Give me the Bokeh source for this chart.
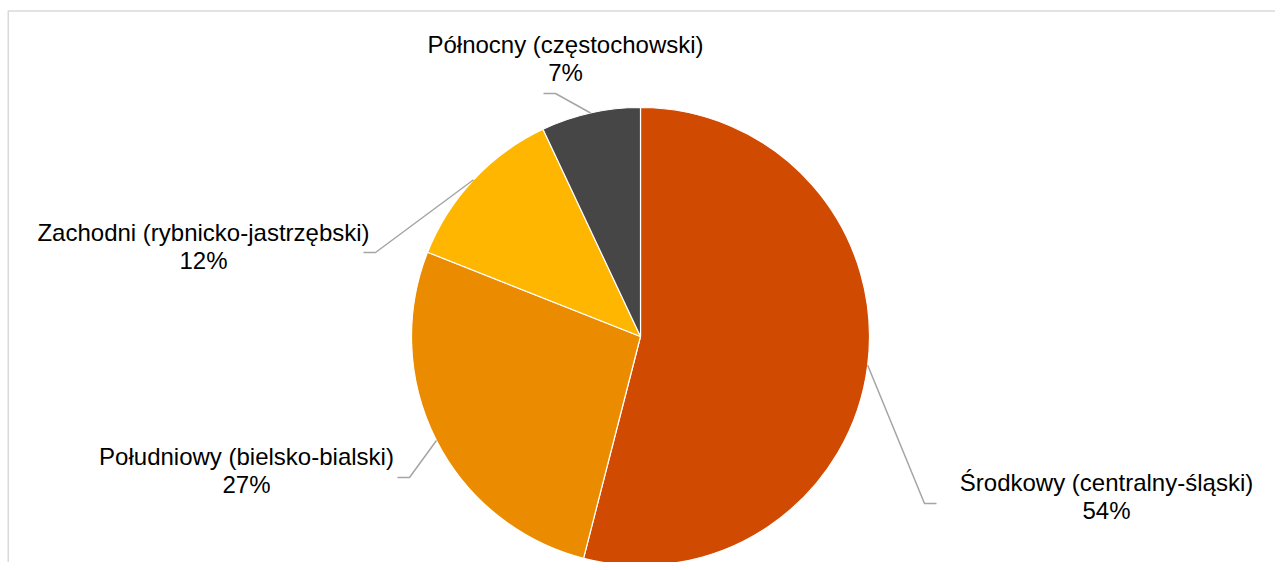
import math
from bokeh.plotting import figure
from bokeh.models import Range1d
from bokeh.core.properties import value
from bokeh.embed import file_html
from bokeh.resources import INLINE

# ---- data ----
names = ["Środkowy (centralny-śląski)", "Południowy (bielsko-bialski)",
         "Zachodni (rybnicko-jastrzębski)", "Północny (częstochowski)"]
shares = [54, 27, 12, 7]
colors = ["#D04A02", "#EB8C00", "#FFB600", "#464646"]

# ---- layout (picture pixels) ----
W, H = 1275, 562
CX, CY, R = 640, 336, 229
# leader elbow, horizontal end, label center (x, first line y)
elbows = [(924, 503), (409, 477), (375, 252), (555, 93)]
ends = [(936, 503), (397, 477), (363, 252), (543, 93)]
label_pos = [(1106, 482), (246, 456), (203, 232), (565, 44)]
LINE_GAP = 28
FONT = "24px"


def sy(y):
    return H - y


p = figure(width=W, height=H, output_backend="svg", toolbar_location=None,
           x_range=Range1d(0, W), y_range=Range1d(0, H),
           min_border=0, min_border_left=0, min_border_right=0,
           min_border_top=0, min_border_bottom=0,
           x_axis_location=None, y_axis_location=None)
p.grid.visible = False
p.outline_line_color = None
p.background_fill_color = "white"
p.border_fill_color = "white"

total = float(sum(shares))
starts, stops, mids = [], [], []
cum = 0.0
for s in shares:
    a0 = math.pi / 2 - 2 * math.pi * cum / total
    a1 = math.pi / 2 - 2 * math.pi * (cum + s) / total
    starts.append(a0)
    stops.append(a1)
    mids.append((a0 + a1) / 2)
    cum += s

p.wedge(x=[CX] * len(shares), y=[sy(CY)] * len(shares), radius=R,
        start_angle=starts, end_angle=stops, direction="clock",
        fill_color=colors, line_color="white", line_width=1.2)

# leader lines
xs, ys = [], []
for m, e, t in zip(mids, elbows, ends):
    px = CX + R * math.cos(m)
    py = sy(CY) + R * math.sin(m)
    xs.append([px, e[0], t[0]])
    ys.append([py, sy(e[1]), sy(t[1])])
p.multi_line(xs=xs, ys=ys, line_color="#A5A5A5", line_width=1.5)

# labels
p.text(x=[lp[0] for lp in label_pos], y=[sy(lp[1]) for lp in label_pos], text=names,
       text_align="center", text_baseline="middle", text_font=value("Liberation Sans"),
       text_font_size=FONT, text_color="#000000")
p.text(x=[lp[0] for lp in label_pos], y=[sy(lp[1] + LINE_GAP) for lp in label_pos],
       text=[f"{s}%" for s in shares],
       text_align="center", text_baseline="middle", text_font=value("Liberation Sans"),
       text_font_size=FONT, text_color="#000000")

# chart border (top and left visible)
p.line(x=[7.75, 7.75, W], y=[0, sy(10.5), sy(10.5)], line_color="#D9D9D9", line_width=1.5)

open("out.html", "w").write(file_html(p, INLINE))
